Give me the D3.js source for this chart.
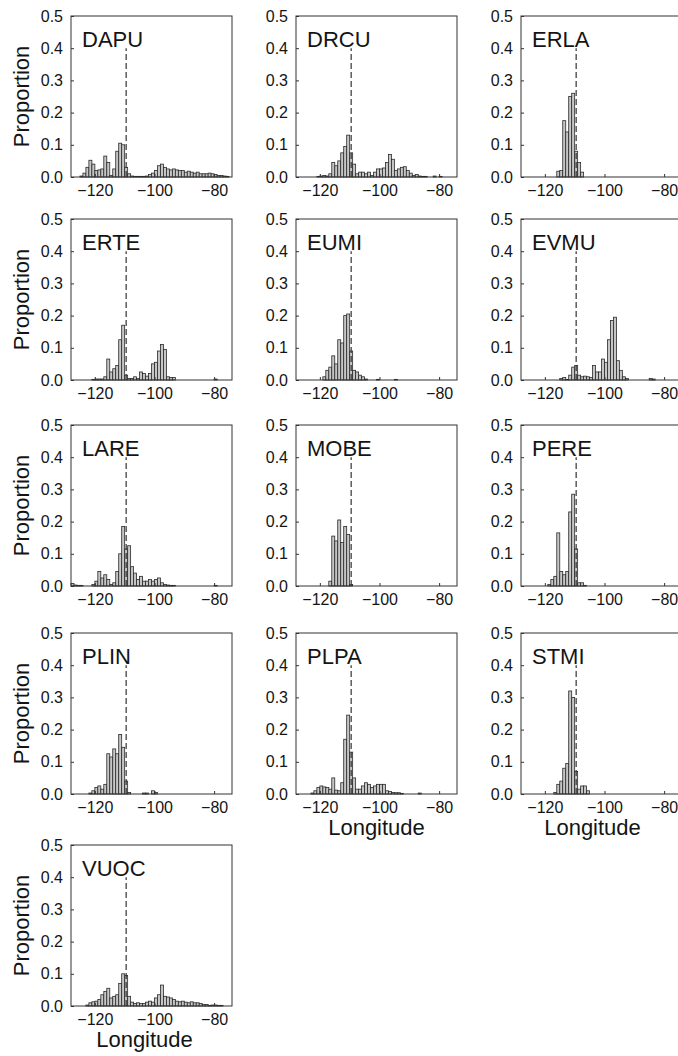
<!DOCTYPE html>
<html>
<head>
<meta charset="utf-8">
<script src="https://cdn.jsdelivr.net/npm/d3@7"></script>
<style>
  body { margin: 0; background: #fff; }
  svg text { font-family: "Liberation Sans", Arial, Helvetica, sans-serif; fill: #141414; }
</style>
</head>
<body>
<div id="chart"></div>
<script>
// histogram bins: 1 degree wide, first bin starts at -128
const binStart = -128
const binWidth = 1
const xTicks = [-120, -100, -80]
const yTicks = [0, 0.1, 0.2, 0.3, 0.4, 0.5]
const divideLon = -109.5
const divideTop = 0.4

const species = ['DAPU', 'DRCU', 'ERLA', 'ERTE', 'EUMI', 'EVMU', 'LARE', 'MOBE', 'PERE', 'PLIN', 'PLPA', 'STMI', 'VUOC']

// proportions per bin, -128 .. -75
const DAPU = [
    0, 0, 0, 0.003, 0.012, 0.03, 0.052, 0.04, 0.02, 0.022,
    0.025, 0.065, 0.045, 0.005, 0.025, 0.08, 0.105, 0.1, 0.03, 0.01,
    0.003, 0.002, 0.002, 0.002, 0.002, 0.003, 0.008, 0.012, 0.02, 0.035,
    0.04, 0.03, 0.025, 0.022, 0.025, 0.022, 0.02, 0.02, 0.015, 0.018,
    0.015, 0.012, 0.015, 0.01, 0.01, 0.01, 0.012, 0.01, 0.008, 0.005,
    0.005, 0.003, 0.002, 0]
const DRCU = [
    0, 0, 0, 0, 0, 0, 0, 0.002, 0.003, 0.005,
    0.003, 0.01, 0.045, 0.035, 0.05, 0.075, 0.095, 0.13, 0.075, 0.04,
    0.01, 0.015, 0.015, 0.01, 0.015, 0.005, 0.015, 0.025, 0.025, 0.028,
    0.045, 0.07, 0.055, 0.02, 0.025, 0.03, 0.032, 0.02, 0.012, 0.005,
    0.008, 0.003, 0.002, 0.002, 0, 0, 0.003, 0, 0.002, 0,
    0, 0, 0, 0]
const ERLA = [
    0, 0, 0, 0, 0, 0, 0, 0, 0, 0,
    0, 0, 0.018, 0.02, 0.175, 0.14, 0.25, 0.26, 0.08, 0.045,
    0.015, 0, 0, 0, 0, 0, 0, 0, 0, 0,
    0, 0, 0, 0, 0, 0, 0, 0, 0, 0,
    0, 0, 0, 0, 0, 0, 0, 0, 0, 0,
    0, 0, 0, 0]
const ERTE = [
    0, 0, 0, 0, 0, 0, 0, 0.002, 0.003, 0.003,
    0.003, 0.01, 0.065, 0.025, 0.035, 0.045, 0.125, 0.17, 0.015, 0.005,
    0.005, 0.01, 0.005, 0.025, 0.02, 0.012, 0.02, 0.05, 0.055, 0.09,
    0.11, 0.095, 0.01, 0.008, 0.008, 0, 0, 0, 0, 0,
    0, 0, 0, 0, 0, 0, 0, 0, 0.003, 0,
    0, 0, 0, 0]
const EUMI = [
    0, 0, 0, 0, 0, 0, 0, 0, 0, 0.01,
    0.03, 0.04, 0.075, 0.05, 0.125, 0.115, 0.2, 0.205, 0.09, 0.03,
    0.025, 0.015, 0.01, 0.003, 0, 0, 0, 0.002, 0, 0,
    0, 0, 0, 0.002, 0, 0, 0, 0, 0, 0,
    0, 0, 0, 0, 0, 0, 0, 0, 0, 0,
    0, 0, 0, 0]
const EVMU = [
    0, 0, 0, 0, 0, 0, 0, 0, 0, 0,
    0, 0, 0, 0.005, 0.008, 0.002, 0.015, 0.04, 0.045, 0.015,
    0.01, 0.012, 0.01, 0.008, 0.045, 0.025, 0.025, 0.065, 0.055, 0.125,
    0.185, 0.195, 0.06, 0.03, 0.01, 0.005, 0, 0, 0, 0,
    0, 0, 0, 0.005, 0.003, 0, 0, 0, 0, 0,
    0, 0, 0, 0]
const LARE = [
    0.008, 0.003, 0.002, 0.002, 0, 0, 0, 0.005, 0.015, 0.045,
    0.025, 0.035, 0.02, 0.005, 0.01, 0.045, 0.1, 0.185, 0.115, 0.125,
    0.06, 0.04, 0.02, 0.03, 0.015, 0.015, 0.02, 0.015, 0.02, 0.025,
    0.01, 0.005, 0.003, 0.002, 0.002, 0, 0, 0, 0, 0,
    0, 0, 0, 0, 0, 0, 0, 0, 0.002, 0,
    0, 0, 0, 0]
const MOBE = [
    0, 0, 0, 0, 0, 0, 0, 0, 0, 0,
    0, 0.015, 0.155, 0.14, 0.205, 0.135, 0.185, 0.16, 0.005, 0,
    0, 0, 0, 0, 0, 0, 0, 0, 0, 0,
    0, 0, 0, 0, 0, 0, 0, 0, 0, 0,
    0, 0, 0, 0, 0, 0, 0, 0, 0, 0,
    0, 0, 0, 0]
const PERE = [
    0, 0, 0, 0, 0, 0, 0, 0, 0, 0.005,
    0.02, 0.03, 0.165, 0.045, 0.035, 0.045, 0.23, 0.285, 0.115, 0.01,
    0.01, 0.002, 0, 0, 0, 0, 0, 0, 0, 0,
    0, 0, 0, 0, 0, 0, 0, 0, 0, 0,
    0, 0, 0, 0, 0, 0, 0, 0, 0, 0,
    0, 0, 0, 0]
const PLIN = [
    0, 0, 0, 0, 0, 0, 0.003, 0.01, 0.02, 0.025,
    0.015, 0.03, 0.125, 0.115, 0.14, 0.125, 0.185, 0.145, 0.04, 0.005,
    0, 0, 0, 0, 0.003, 0.003, 0, 0.01, 0.005, 0,
    0, 0, 0, 0, 0, 0, 0, 0, 0, 0,
    0, 0, 0, 0, 0, 0, 0, 0, 0, 0,
    0, 0, 0, 0]
const PLPA = [
    0, 0, 0, 0, 0, 0.003, 0.01, 0.02, 0.025, 0.022,
    0.02, 0.015, 0.05, 0.012, 0.01, 0.035, 0.17, 0.245, 0.13, 0.05,
    0.015, 0.015, 0.025, 0.035, 0.03, 0.02, 0.025, 0.03, 0.03, 0.03,
    0.01, 0.008, 0.005, 0.004, 0.004, 0.002, 0, 0, 0, 0,
    0, 0.003, 0, 0, 0, 0, 0, 0, 0, 0,
    0, 0, 0, 0]
const STMI = [
    0, 0, 0, 0, 0, 0, 0, 0, 0, 0,
    0, 0.005, 0.03, 0.04, 0.08, 0.095, 0.32, 0.3, 0.07, 0.015,
    0.025, 0.025, 0.01, 0, 0, 0, 0, 0, 0, 0,
    0, 0, 0, 0, 0, 0, 0, 0, 0, 0,
    0, 0, 0, 0, 0, 0, 0, 0, 0, 0,
    0, 0, 0, 0]
const VUOC = [
    0, 0, 0, 0, 0, 0.003, 0.01, 0.013, 0.015, 0.02,
    0.035, 0.045, 0.055, 0.025, 0.03, 0.035, 0.07, 0.1, 0.095, 0.03,
    0.012, 0.008, 0.01, 0.008, 0.008, 0.012, 0.015, 0.012, 0.025, 0.035,
    0.065, 0.03, 0.028, 0.025, 0.02, 0.015, 0.013, 0.015, 0.012, 0.01,
    0.013, 0.01, 0.01, 0.008, 0.005, 0.005, 0.002, 0.003, 0.003, 0.002,
    0.002, 0, 0, 0]

const values = [DAPU, DRCU, ERLA, ERTE, EUMI, EVMU, LARE, MOBE, PERE, PLIN, PLPA, STMI, VUOC]
const withXLabel = ['PLPA', 'STMI', 'VUOC']

const w = 678
const h = 1056
const size = 161
const colX = [71, 296, 521]
const rowY = [16, 219, 425, 633, 845]
const xLabelShift = [-7, 0, -9]

const svg = d3.select('#chart').append('svg').attr('width', w).attr('height', h)
svg.append('rect').attr('width', w).attr('height', h).attr('fill', '#fff')

const x = d3.scaleLinear().domain([-128, -74]).range([0, size])
const y = d3.scaleLinear().domain([0, 0.5]).range([size, 0])

species.forEach((name, i) => {
    const col = i % 3
    const row = Math.floor(i / 3)
    const g = svg.append('g').attr('transform', `translate(${colX[col]},${rowY[row]})`)

    const bins = values[i]
        .map((v, k) => ({ x0: binStart + k * binWidth, v: v }))
        .filter(d => d.v > 0)

    g.selectAll('rect.bar')
        .data(bins)
        .enter()
        .append('rect')
        .attr('class', 'bar')
        .attr('x', d => x(d.x0))
        .attr('y', d => y(d.v))
        .attr('width', d => x(d.x0 + binWidth) - x(d.x0))
        .attr('height', d => y(0) - y(d.v))
        .attr('fill', '#c6c6c6')
        .attr('stroke', '#2a2a2a')
        .attr('stroke-width', 0.8)

    g.append('line')
        .attr('x1', x(divideLon))
        .attr('x2', x(divideLon))
        .attr('y1', y(0))
        .attr('y2', y(divideTop))
        .attr('stroke', '#333')
        .attr('stroke-width', 1.2)
        .attr('stroke-dasharray', '6,3')

    const xAxis = g.append('g')
        .attr('transform', `translate(0,${size})`)
        .call(d3.axisBottom(x).tickValues(xTicks).tickSizeInner(-3).tickSizeOuter(0).tickPadding(8))
    const yAxis = g.append('g')
        .call(d3.axisLeft(y).tickValues(yTicks).tickFormat(d3.format('.1f')).tickSizeInner(-3).tickSizeOuter(0).tickPadding(8))
    ;[xAxis, yAxis].forEach(a => {
        a.select('.domain').remove()
        a.selectAll('line').attr('stroke', '#333')
        a.selectAll('text').attr('font-size', 16).attr('font-family', null)
    })

    g.append('rect')
        .attr('width', size)
        .attr('height', size)
        .attr('fill', 'none')
        .attr('stroke', '#333')
        .attr('stroke-width', 1)

    g.append('text')
        .attr('x', 11)
        .attr('y', 31)
        .attr('font-size', 22)
        .text(name)

    if (col === 0) {
        g.append('text')
            .attr('transform', `translate(${29 - colX[0]},${size / 2}) rotate(-90)`)
            .attr('text-anchor', 'middle')
            .attr('font-size', 22)
            .text('Proportion')
    }
    if (withXLabel.includes(name)) {
        g.append('text')
            .attr('x', size / 2 + xLabelShift[col])
            .attr('y', size + 41)
            .attr('text-anchor', 'middle')
            .attr('font-size', 22)
            .text('Longitude')
    }
})
</script>
</body>
</html>
